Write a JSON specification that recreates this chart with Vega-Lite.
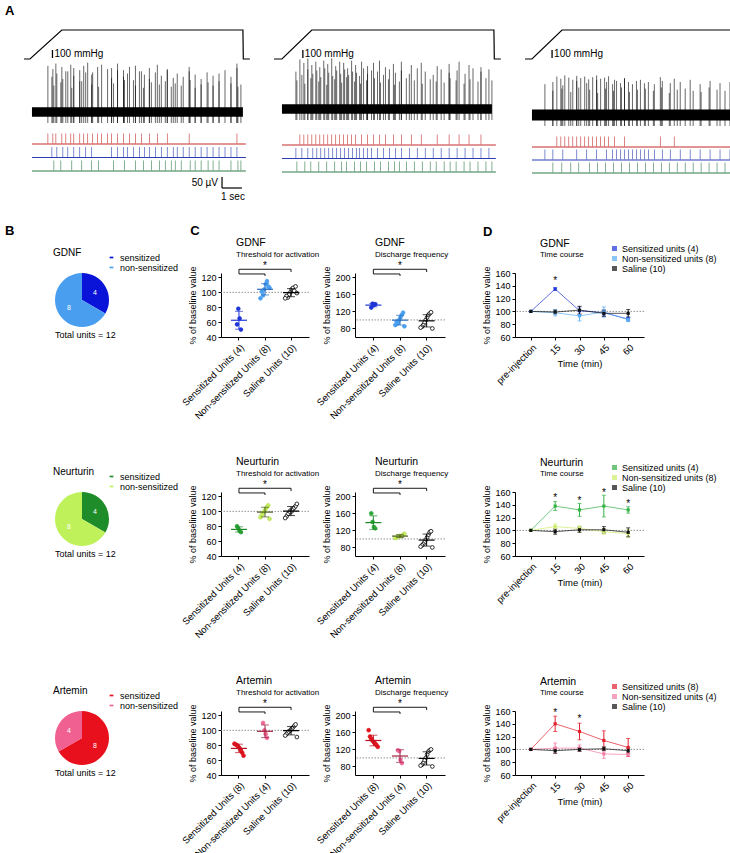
{
"$schema":"https://vega.github.io/schema/vega-lite/v6.json",
"background":"white",
"padding":{"left":5,"top":4,"right":0,"bottom":0},
"config":{
 "font":"Liberation Sans",
 "view":{"stroke":null},
 "axis":{"labelFontSize":9,"titleFontSize":9,"titleFontWeight":"normal","labelColor":"black","titleColor":"black","domainColor":"black","tickColor":"black","tickSize":3,"grid":false,"labelPadding":2,"titlePadding":3,"labelOverlap":false},
 "title":{"fontWeight":"normal","anchor":"start","color":"black","subtitleColor":"black"},
 "legend":{"labelColor":"black"}
},
"datasets":{
 "press":[
  {"p":1,"t":0,"y":0},{"p":1,"t":0.3,"y":0},{"p":1,"t":1.9,"y":100},{"p":1,"t":11.0,"y":100},{"p":1,"t":11.02,"y":0},{"p":1,"t":11.35,"y":0},
  {"p":2,"t":0,"y":0},{"p":2,"t":0.4,"y":0},{"p":2,"t":1.9,"y":100},{"p":2,"t":11.05,"y":100},{"p":2,"t":11.07,"y":0},{"p":2,"t":11.4,"y":0},
  {"p":3,"t":0,"y":0},{"p":3,"t":0.35,"y":0},{"p":3,"t":1.86,"y":100},{"p":3,"t":10.9,"y":100},{"p":3,"t":10.92,"y":0},{"p":3,"t":11.15,"y":0}
 ],
 "bars":[{"p":1,"t":1.43},{"p":2,"t":1.45},{"p":3,"t":1.36}],
 "band":[{"p":1,"t0":0.4,"t1":11.0},{"p":2,"t0":0.4,"t1":10.95},{"p":3,"t0":0.35,"t1":11.05}],
 "rl":[
  {"p":1,"u":"r","t0":0.4,"t1":11.15},{"p":1,"u":"b","t0":0.4,"t1":11.15},{"p":1,"u":"g","t0":0.4,"t1":11.15},
  {"p":2,"u":"r","t0":0.4,"t1":11.15},{"p":2,"u":"b","t0":0.4,"t1":11.15},{"p":2,"u":"g","t0":0.4,"t1":11.15},
  {"p":3,"u":"r","t0":0.35,"t1":11.05},{"p":3,"u":"b","t0":0.35,"t1":11.05},{"p":3,"u":"g","t0":0.35,"t1":11.05}
 ],
 "sbar":[{"t1":9.95,"t2":9.95,"v1":0,"v2":50,"lab":"50 µV"},{"t1":9.95,"t2":10.95,"v1":0,"v2":0,"lab":"1 sec"}],
 "spk":[
  {"p":1,"u":"r","t":1.2,"a":210},{"p":1,"u":"r","t":1.45,"a":195},{"p":1,"u":"r","t":1.6,"a":220},{"p":1,"u":"r","t":1.9,"a":205},{"p":1,"u":"r","t":2.1,"a":185},{"p":1,"u":"r","t":2.35,"a":215},{"p":1,"u":"r","t":2.5,"a":200},{"p":1,"u":"r","t":2.8,"a":190},{"p":1,"u":"r","t":3.0,"a":210},{"p":1,"u":"r","t":3.2,"a":225},{"p":1,"u":"r","t":3.45,"a":180},{"p":1,"u":"r","t":3.7,"a":205},{"p":1,"u":"r","t":3.9,"a":215},{"p":1,"u":"r","t":4.2,"a":195},{"p":1,"u":"r","t":4.4,"a":200},{"p":1,"u":"r","t":4.7,"a":220},{"p":1,"u":"r","t":5.0,"a":190},{"p":1,"u":"r","t":5.3,"a":205},{"p":1,"u":"r","t":5.6,"a":210},{"p":1,"u":"r","t":5.9,"a":185},{"p":1,"u":"r","t":6.3,"a":200},{"p":1,"u":"r","t":6.7,"a":215},{"p":1,"u":"r","t":7.2,"a":195},{"p":1,"u":"r","t":8.3,"a":205},{"p":1,"u":"r","t":10.7,"a":220},
  {"p":1,"u":"b","t":1.4,"a":160},{"p":1,"u":"b","t":1.65,"a":175},{"p":1,"u":"b","t":1.95,"a":150},{"p":1,"u":"b","t":2.2,"a":185},{"p":1,"u":"b","t":2.5,"a":165},{"p":1,"u":"b","t":2.8,"a":140},{"p":1,"u":"b","t":3.1,"a":180},{"p":1,"u":"b","t":3.4,"a":170},{"p":1,"u":"b","t":4.4,"a":155},{"p":1,"u":"b","t":4.7,"a":190},{"p":1,"u":"b","t":5.0,"a":160},{"p":1,"u":"b","t":5.2,"a":175},{"p":1,"u":"b","t":5.5,"a":145},{"p":1,"u":"b","t":5.8,"a":185},{"p":1,"u":"b","t":6.05,"a":170},{"p":1,"u":"b","t":6.3,"a":150},{"p":1,"u":"b","t":6.6,"a":180},{"p":1,"u":"b","t":6.9,"a":165},{"p":1,"u":"b","t":7.2,"a":190},{"p":1,"u":"b","t":7.5,"a":155},{"p":1,"u":"b","t":7.7,"a":175},{"p":1,"u":"b","t":8.0,"a":160},{"p":1,"u":"b","t":8.3,"a":185},{"p":1,"u":"b","t":8.6,"a":170},{"p":1,"u":"b","t":8.9,"a":150},{"p":1,"u":"b","t":9.2,"a":180},{"p":1,"u":"b","t":9.5,"a":165},{"p":1,"u":"b","t":9.8,"a":175},{"p":1,"u":"b","t":10.1,"a":190},{"p":1,"u":"b","t":10.4,"a":160},{"p":1,"u":"b","t":10.7,"a":200},
  {"p":1,"u":"g","t":1.5,"a":120},{"p":1,"u":"g","t":1.85,"a":135},{"p":1,"u":"g","t":2.4,"a":110},{"p":1,"u":"g","t":2.9,"a":140},{"p":1,"u":"g","t":3.4,"a":125},{"p":1,"u":"g","t":3.75,"a":115},{"p":1,"u":"g","t":4.5,"a":130},{"p":1,"u":"g","t":5.05,"a":145},{"p":1,"u":"g","t":5.6,"a":120},{"p":1,"u":"g","t":6.0,"a":110},{"p":1,"u":"g","t":6.4,"a":135},{"p":1,"u":"g","t":6.8,"a":125},{"p":1,"u":"g","t":7.1,"a":140},{"p":1,"u":"g","t":7.4,"a":115},{"p":1,"u":"g","t":7.6,"a":130},{"p":1,"u":"g","t":7.9,"a":120},{"p":1,"u":"g","t":8.35,"a":145},{"p":1,"u":"g","t":8.6,"a":110},{"p":1,"u":"g","t":8.9,"a":125},{"p":1,"u":"g","t":9.25,"a":135},{"p":1,"u":"g","t":9.5,"a":120},{"p":1,"u":"g","t":9.8,"a":140},{"p":1,"u":"g","t":10.4,"a":130},{"p":1,"u":"g","t":10.75,"a":115},{"p":1,"u":"g","t":10.9,"a":125},
  {"p":2,"u":"r","t":1.3,"a":225},{"p":2,"u":"r","t":1.5,"a":210},{"p":2,"u":"r","t":1.7,"a":230},{"p":2,"u":"r","t":1.9,"a":200},{"p":2,"u":"r","t":2.1,"a":215},{"p":2,"u":"r","t":2.3,"a":190},{"p":2,"u":"r","t":2.5,"a":220},{"p":2,"u":"r","t":2.7,"a":205},{"p":2,"u":"r","t":2.9,"a":230},{"p":2,"u":"r","t":3.1,"a":195},{"p":2,"u":"r","t":3.3,"a":215},{"p":2,"u":"r","t":3.5,"a":210},{"p":2,"u":"r","t":3.7,"a":185},{"p":2,"u":"r","t":3.9,"a":220},{"p":2,"u":"r","t":4.1,"a":200},{"p":2,"u":"r","t":4.4,"a":215},{"p":2,"u":"r","t":4.7,"a":195},{"p":2,"u":"r","t":5.0,"a":210},{"p":2,"u":"r","t":5.3,"a":220},{"p":2,"u":"r","t":5.6,"a":190},{"p":2,"u":"r","t":6.0,"a":205},{"p":2,"u":"r","t":6.4,"a":215},{"p":2,"u":"r","t":6.9,"a":200},{"p":2,"u":"r","t":7.4,"a":210},{"p":2,"u":"r","t":8.2,"a":195},{"p":2,"u":"r","t":8.8,"a":205},{"p":2,"u":"r","t":9.3,"a":215},{"p":2,"u":"r","t":9.8,"a":200},{"p":2,"u":"r","t":10.4,"a":190},
  {"p":2,"u":"b","t":1.1,"a":170},{"p":2,"u":"b","t":1.4,"a":155},{"p":2,"u":"b","t":1.7,"a":180},{"p":2,"u":"b","t":1.95,"a":160},{"p":2,"u":"b","t":2.15,"a":175},{"p":2,"u":"b","t":2.35,"a":145},{"p":2,"u":"b","t":2.55,"a":185},{"p":2,"u":"b","t":2.75,"a":165},{"p":2,"u":"b","t":2.95,"a":150},{"p":2,"u":"b","t":3.15,"a":175},{"p":2,"u":"b","t":3.35,"a":160},{"p":2,"u":"b","t":3.55,"a":180},{"p":2,"u":"b","t":3.75,"a":155},{"p":2,"u":"b","t":3.95,"a":170},{"p":2,"u":"b","t":4.15,"a":165},{"p":2,"u":"b","t":4.3,"a":150},{"p":2,"u":"b","t":4.5,"a":185},{"p":2,"u":"b","t":4.7,"a":160},{"p":2,"u":"b","t":4.9,"a":175},{"p":2,"u":"b","t":5.2,"a":170},{"p":2,"u":"b","t":5.5,"a":155},{"p":2,"u":"b","t":5.8,"a":180},{"p":2,"u":"b","t":6.1,"a":165},{"p":2,"u":"b","t":6.4,"a":175},{"p":2,"u":"b","t":6.8,"a":160},{"p":2,"u":"b","t":7.2,"a":185},{"p":2,"u":"b","t":7.6,"a":170},{"p":2,"u":"b","t":8.0,"a":155},{"p":2,"u":"b","t":8.4,"a":180},{"p":2,"u":"b","t":8.8,"a":165},{"p":2,"u":"b","t":9.2,"a":175},{"p":2,"u":"b","t":9.6,"a":160},{"p":2,"u":"b","t":10.0,"a":185},{"p":2,"u":"b","t":10.4,"a":170},{"p":2,"u":"b","t":10.8,"a":180},
  {"p":2,"u":"g","t":1.15,"a":130},{"p":2,"u":"g","t":1.55,"a":115},{"p":2,"u":"g","t":1.85,"a":140},{"p":2,"u":"g","t":2.25,"a":125},{"p":2,"u":"g","t":2.65,"a":110},{"p":2,"u":"g","t":3.05,"a":135},{"p":2,"u":"g","t":3.4,"a":120},{"p":2,"u":"g","t":3.65,"a":145},{"p":2,"u":"g","t":4.05,"a":125},{"p":2,"u":"g","t":4.35,"a":115},{"p":2,"u":"g","t":4.65,"a":130},{"p":2,"u":"g","t":5.05,"a":140},{"p":2,"u":"g","t":5.35,"a":120},{"p":2,"u":"g","t":5.75,"a":135},{"p":2,"u":"g","t":6.05,"a":110},{"p":2,"u":"g","t":6.3,"a":125},{"p":2,"u":"g","t":6.65,"a":140},{"p":2,"u":"g","t":7.05,"a":130},{"p":2,"u":"g","t":7.45,"a":115},{"p":2,"u":"g","t":7.85,"a":135},{"p":2,"u":"g","t":8.15,"a":125},{"p":2,"u":"g","t":8.55,"a":120},{"p":2,"u":"g","t":8.85,"a":140},{"p":2,"u":"g","t":9.15,"a":130},{"p":2,"u":"g","t":9.55,"a":115},{"p":2,"u":"g","t":9.85,"a":135},{"p":2,"u":"g","t":10.25,"a":125},{"p":2,"u":"g","t":10.65,"a":140},{"p":2,"u":"g","t":10.95,"a":130},
  {"p":3,"u":"r","t":1.6,"a":175},{"p":3,"u":"r","t":1.8,"a":165},{"p":3,"u":"r","t":2.0,"a":180},{"p":3,"u":"r","t":2.2,"a":170},{"p":3,"u":"r","t":2.4,"a":160},{"p":3,"u":"r","t":2.6,"a":178},{"p":3,"u":"r","t":2.8,"a":168},{"p":3,"u":"r","t":3.0,"a":175},{"p":3,"u":"r","t":3.2,"a":162},{"p":3,"u":"r","t":3.4,"a":172},{"p":3,"u":"r","t":3.6,"a":180},{"p":3,"u":"r","t":3.8,"a":165},{"p":3,"u":"r","t":4.0,"a":170},{"p":3,"u":"r","t":4.2,"a":176},{"p":3,"u":"r","t":4.5,"a":160},{"p":3,"u":"r","t":5.0,"a":168},{"p":3,"u":"r","t":6.8,"a":172},{"p":3,"u":"r","t":7.5,"a":165},
  {"p":3,"u":"b","t":1.0,"a":140},{"p":3,"u":"b","t":1.4,"a":150},{"p":3,"u":"b","t":1.9,"a":135},{"p":3,"u":"b","t":2.6,"a":155},{"p":3,"u":"b","t":3.1,"a":145},{"p":3,"u":"b","t":3.6,"a":160},{"p":3,"u":"b","t":4.1,"a":150},{"p":3,"u":"b","t":4.4,"a":140},{"p":3,"u":"b","t":4.6,"a":155},{"p":3,"u":"b","t":4.8,"a":145},{"p":3,"u":"b","t":5.0,"a":165},{"p":3,"u":"b","t":5.2,"a":150},{"p":3,"u":"b","t":5.4,"a":140},{"p":3,"u":"b","t":5.6,"a":155},{"p":3,"u":"b","t":5.8,"a":160},{"p":3,"u":"b","t":6.0,"a":145},{"p":3,"u":"b","t":6.2,"a":150},{"p":3,"u":"b","t":6.5,"a":140},{"p":3,"u":"b","t":6.9,"a":155},{"p":3,"u":"b","t":7.3,"a":145},{"p":3,"u":"b","t":7.8,"a":150},{"p":3,"u":"b","t":8.3,"a":160},{"p":3,"u":"b","t":8.8,"a":140},{"p":3,"u":"b","t":9.3,"a":155},{"p":3,"u":"b","t":9.8,"a":145},{"p":3,"u":"b","t":10.3,"a":150},{"p":3,"u":"b","t":10.7,"a":185},
  {"p":3,"u":"g","t":1.4,"a":110},{"p":3,"u":"g","t":1.85,"a":120},{"p":3,"u":"g","t":2.3,"a":105},{"p":3,"u":"g","t":2.7,"a":125},{"p":3,"u":"g","t":3.25,"a":115},{"p":3,"u":"g","t":3.65,"a":100},{"p":3,"u":"g","t":4.05,"a":120},{"p":3,"u":"g","t":4.45,"a":110},{"p":3,"u":"g","t":4.85,"a":125},{"p":3,"u":"g","t":5.25,"a":105},{"p":3,"u":"g","t":5.65,"a":115},{"p":3,"u":"g","t":6.05,"a":120},{"p":3,"u":"g","t":6.45,"a":110},{"p":3,"u":"g","t":6.85,"a":125},{"p":3,"u":"g","t":7.25,"a":100},{"p":3,"u":"g","t":7.65,"a":115},{"p":3,"u":"g","t":8.05,"a":120},{"p":3,"u":"g","t":8.45,"a":110},{"p":3,"u":"g","t":8.85,"a":105},{"p":3,"u":"g","t":9.25,"a":125},{"p":3,"u":"g","t":9.65,"a":115},{"p":3,"u":"g","t":10.05,"a":110},{"p":3,"u":"g","t":10.45,"a":120},{"p":3,"u":"g","t":10.75,"a":105}
 ],
 "pie":[
  {"d":"G","k":"sensitized","n":4},{"d":"G","k":"non-sensitized","n":8},
  {"d":"N","k":"sensitized","n":4},{"d":"N","k":"non-sensitized","n":8},
  {"d":"A","k":"sensitized","n":8},{"d":"A","k":"non-sensitized","n":4}
 ],
 "dots":[
  {"d":"G","m":"thr","k":"S","u":1,"v":78},{"d":"G","m":"thr","k":"S","u":2,"v":65},{"d":"G","m":"thr","k":"S","u":3,"v":57},{"d":"G","m":"thr","k":"S","u":4,"v":50},
  {"d":"G","m":"thr","k":"N","u":1,"v":104},{"d":"G","m":"thr","k":"N","u":2,"v":111},{"d":"G","m":"thr","k":"N","u":3,"v":96},{"d":"G","m":"thr","k":"N","u":4,"v":115},{"d":"G","m":"thr","k":"N","u":5,"v":101},{"d":"G","m":"thr","k":"N","u":6,"v":108},{"d":"G","m":"thr","k":"N","u":7,"v":92},{"d":"G","m":"thr","k":"N","u":8,"v":106},
  {"d":"G","m":"thr","k":"C","u":1,"v":100},{"d":"G","m":"thr","k":"C","u":2,"v":104},{"d":"G","m":"thr","k":"C","u":3,"v":97},{"d":"G","m":"thr","k":"C","u":4,"v":106},{"d":"G","m":"thr","k":"C","u":5,"v":93},{"d":"G","m":"thr","k":"C","u":6,"v":102},{"d":"G","m":"thr","k":"C","u":7,"v":95},{"d":"G","m":"thr","k":"C","u":8,"v":108},{"d":"G","m":"thr","k":"C","u":9,"v":92},{"d":"G","m":"thr","k":"C","u":10,"v":99},
  {"d":"G","m":"dis","k":"S","u":1,"v":138},{"d":"G","m":"dis","k":"S","u":2,"v":135},{"d":"G","m":"dis","k":"S","u":3,"v":129},{"d":"G","m":"dis","k":"S","u":4,"v":137},
  {"d":"G","m":"dis","k":"N","u":1,"v":100},{"d":"G","m":"dis","k":"N","u":2,"v":106},{"d":"G","m":"dis","k":"N","u":3,"v":92},{"d":"G","m":"dis","k":"N","u":4,"v":112},{"d":"G","m":"dis","k":"N","u":5,"v":96},{"d":"G","m":"dis","k":"N","u":6,"v":117},{"d":"G","m":"dis","k":"N","u":7,"v":88},{"d":"G","m":"dis","k":"N","u":8,"v":85},
  {"d":"G","m":"dis","k":"C","u":1,"v":100},{"d":"G","m":"dis","k":"C","u":2,"v":106},{"d":"G","m":"dis","k":"C","u":3,"v":94},{"d":"G","m":"dis","k":"C","u":4,"v":112},{"d":"G","m":"dis","k":"C","u":5,"v":88},{"d":"G","m":"dis","k":"C","u":6,"v":115},{"d":"G","m":"dis","k":"C","u":7,"v":84},{"d":"G","m":"dis","k":"C","u":8,"v":118},{"d":"G","m":"dis","k":"C","u":9,"v":82},{"d":"G","m":"dis","k":"C","u":10,"v":80},
  {"d":"N","m":"thr","k":"S","u":1,"v":77},{"d":"N","m":"thr","k":"S","u":2,"v":74},{"d":"N","m":"thr","k":"S","u":3,"v":80},{"d":"N","m":"thr","k":"S","u":4,"v":72},
  {"d":"N","m":"thr","k":"N","u":1,"v":100},{"d":"N","m":"thr","k":"N","u":2,"v":103},{"d":"N","m":"thr","k":"N","u":3,"v":98},{"d":"N","m":"thr","k":"N","u":4,"v":106},{"d":"N","m":"thr","k":"N","u":5,"v":95},{"d":"N","m":"thr","k":"N","u":6,"v":108},{"d":"N","m":"thr","k":"N","u":7,"v":92},{"d":"N","m":"thr","k":"N","u":8,"v":90},
  {"d":"N","m":"thr","k":"C","u":1,"v":101},{"d":"N","m":"thr","k":"C","u":2,"v":100},{"d":"N","m":"thr","k":"C","u":3,"v":98},{"d":"N","m":"thr","k":"C","u":4,"v":103},{"d":"N","m":"thr","k":"C","u":5,"v":96},{"d":"N","m":"thr","k":"C","u":6,"v":105},{"d":"N","m":"thr","k":"C","u":7,"v":93},{"d":"N","m":"thr","k":"C","u":8,"v":107},{"d":"N","m":"thr","k":"C","u":9,"v":91},{"d":"N","m":"thr","k":"C","u":10,"v":110},
  {"d":"N","m":"dis","k":"S","u":1,"v":140},{"d":"N","m":"dis","k":"S","u":2,"v":128},{"d":"N","m":"dis","k":"S","u":3,"v":160},{"d":"N","m":"dis","k":"S","u":4,"v":125},
  {"d":"N","m":"dis","k":"N","u":1,"v":107},{"d":"N","m":"dis","k":"N","u":2,"v":106},{"d":"N","m":"dis","k":"N","u":3,"v":105},{"d":"N","m":"dis","k":"N","u":4,"v":108},{"d":"N","m":"dis","k":"N","u":5,"v":103},{"d":"N","m":"dis","k":"N","u":6,"v":110},{"d":"N","m":"dis","k":"N","u":7,"v":102},{"d":"N","m":"dis","k":"N","u":8,"v":112},
  {"d":"N","m":"dis","k":"C","u":1,"v":98},{"d":"N","m":"dis","k":"C","u":2,"v":104},{"d":"N","m":"dis","k":"C","u":3,"v":92},{"d":"N","m":"dis","k":"C","u":4,"v":110},{"d":"N","m":"dis","k":"C","u":5,"v":88},{"d":"N","m":"dis","k":"C","u":6,"v":116},{"d":"N","m":"dis","k":"C","u":7,"v":85},{"d":"N","m":"dis","k":"C","u":8,"v":118},{"d":"N","m":"dis","k":"C","u":9,"v":82},{"d":"N","m":"dis","k":"C","u":10,"v":80},
  {"d":"A","m":"thr","k":"S","u":1,"v":78},{"d":"A","m":"thr","k":"S","u":2,"v":76},{"d":"A","m":"thr","k":"S","u":3,"v":80},{"d":"A","m":"thr","k":"S","u":4,"v":73},{"d":"A","m":"thr","k":"S","u":5,"v":81},{"d":"A","m":"thr","k":"S","u":6,"v":70},{"d":"A","m":"thr","k":"S","u":7,"v":82},{"d":"A","m":"thr","k":"S","u":8,"v":66},
  {"d":"A","m":"thr","k":"N","u":1,"v":100},{"d":"A","m":"thr","k":"N","u":2,"v":95},{"d":"A","m":"thr","k":"N","u":3,"v":110},{"d":"A","m":"thr","k":"N","u":4,"v":90},
  {"d":"A","m":"thr","k":"C","u":1,"v":100},{"d":"A","m":"thr","k":"C","u":2,"v":102},{"d":"A","m":"thr","k":"C","u":3,"v":99},{"d":"A","m":"thr","k":"C","u":4,"v":104},{"d":"A","m":"thr","k":"C","u":5,"v":97},{"d":"A","m":"thr","k":"C","u":6,"v":106},{"d":"A","m":"thr","k":"C","u":7,"v":95},{"d":"A","m":"thr","k":"C","u":8,"v":108},{"d":"A","m":"thr","k":"C","u":9,"v":93},{"d":"A","m":"thr","k":"C","u":10,"v":91},
  {"d":"A","m":"dis","k":"S","u":1,"v":140},{"d":"A","m":"dis","k":"S","u":2,"v":137},{"d":"A","m":"dis","k":"S","u":3,"v":145},{"d":"A","m":"dis","k":"S","u":4,"v":134},{"d":"A","m":"dis","k":"S","u":5,"v":150},{"d":"A","m":"dis","k":"S","u":6,"v":130},{"d":"A","m":"dis","k":"S","u":7,"v":165},{"d":"A","m":"dis","k":"S","u":8,"v":126},
  {"d":"A","m":"dis","k":"N","u":1,"v":116},{"d":"A","m":"dis","k":"N","u":2,"v":96},{"d":"A","m":"dis","k":"N","u":3,"v":118},{"d":"A","m":"dis","k":"N","u":4,"v":88},
  {"d":"A","m":"dis","k":"C","u":1,"v":100},{"d":"A","m":"dis","k":"C","u":2,"v":108},{"d":"A","m":"dis","k":"C","u":3,"v":94},{"d":"A","m":"dis","k":"C","u":4,"v":115},{"d":"A","m":"dis","k":"C","u":5,"v":88},{"d":"A","m":"dis","k":"C","u":6,"v":118},{"d":"A","m":"dis","k":"C","u":7,"v":84},{"d":"A","m":"dis","k":"C","u":8,"v":120},{"d":"A","m":"dis","k":"C","u":9,"v":82},{"d":"A","m":"dis","k":"C","u":10,"v":80}
 ],
 "brk":[
  {"m":"thr","b":1,"o":1,"k":"S","y":124.7},{"m":"thr","b":1,"o":2,"k":"N","y":124.7},{"m":"thr","b":1,"o":3,"k":"N","y":122},
  {"m":"thr","b":2,"o":1,"k":"S","y":124.7},{"m":"thr","b":2,"o":2,"k":"S","y":131},{"m":"thr","b":2,"o":3,"k":"C","y":131},{"m":"thr","b":2,"o":4,"k":"C","y":127.3},
  {"m":"dis","b":1,"o":1,"k":"S","y":207.7},{"m":"dis","b":1,"o":2,"k":"N","y":207.7},{"m":"dis","b":1,"o":3,"k":"N","y":203},
  {"m":"dis","b":2,"o":1,"k":"S","y":207.7},{"m":"dis","b":2,"o":2,"k":"S","y":218.7},{"m":"dis","b":2,"o":3,"k":"C","y":218.7},{"m":"dis","b":2,"o":4,"k":"C","y":212.3}
 ],
 "ast":[{"m":"thr","k":"N","y":135.5},{"m":"dis","k":"N","y":226.5}],
 "tc":[
  {"d":"G","k":"S","t":"pre-injection","m":100,"sd":0},{"d":"G","k":"S","t":"15","m":135,"sd":2},{"d":"G","k":"S","t":"30","m":101,"sd":6},{"d":"G","k":"S","t":"45","m":98,"sd":4},{"d":"G","k":"S","t":"60","m":88,"sd":3},
  {"d":"G","k":"N","t":"pre-injection","m":100,"sd":0},{"d":"G","k":"N","t":"15","m":98,"sd":5},{"d":"G","k":"N","t":"30","m":93,"sd":8},{"d":"G","k":"N","t":"45","m":99,"sd":8},{"d":"G","k":"N","t":"60","m":87,"sd":3},
  {"d":"G","k":"C","t":"pre-injection","m":100,"sd":0},{"d":"G","k":"C","t":"15","m":99,"sd":3},{"d":"G","k":"C","t":"30","m":102,"sd":6},{"d":"G","k":"C","t":"45","m":97,"sd":5},{"d":"G","k":"C","t":"60","m":97,"sd":6},
  {"d":"N","k":"S","t":"pre-injection","m":100,"sd":0},{"d":"N","k":"S","t":"15","m":138,"sd":7},{"d":"N","k":"S","t":"30","m":132,"sd":10},{"d":"N","k":"S","t":"45","m":138,"sd":17},{"d":"N","k":"S","t":"60","m":132,"sd":5},
  {"d":"N","k":"N","t":"pre-injection","m":100,"sd":0},{"d":"N","k":"N","t":"15","m":106,"sd":4},{"d":"N","k":"N","t":"30","m":103,"sd":4},{"d":"N","k":"N","t":"45","m":98,"sd":4},{"d":"N","k":"N","t":"60","m":95,"sd":6},
  {"d":"N","k":"C","t":"pre-injection","m":100,"sd":0},{"d":"N","k":"C","t":"15","m":98,"sd":4},{"d":"N","k":"C","t":"30","m":101,"sd":4},{"d":"N","k":"C","t":"45","m":101,"sd":5},{"d":"N","k":"C","t":"60","m":97,"sd":7},
  {"d":"A","k":"S","t":"pre-injection","m":100,"sd":0},{"d":"A","k":"S","t":"15","m":140,"sd":12},{"d":"A","k":"S","t":"30","m":128,"sd":13},{"d":"A","k":"S","t":"45","m":114,"sd":15},{"d":"A","k":"S","t":"60","m":103,"sd":14},
  {"d":"A","k":"N","t":"pre-injection","m":100,"sd":0},{"d":"A","k":"N","t":"15","m":102,"sd":8},{"d":"A","k":"N","t":"30","m":102,"sd":5},{"d":"A","k":"N","t":"45","m":93,"sd":7},{"d":"A","k":"N","t":"60","m":92,"sd":3},
  {"d":"A","k":"C","t":"pre-injection","m":100,"sd":0},{"d":"A","k":"C","t":"15","m":98,"sd":4},{"d":"A","k":"C","t":"30","m":100,"sd":3},{"d":"A","k":"C","t":"45","m":101,"sd":3},{"d":"A","k":"C","t":"60","m":98,"sd":4}
 ],
 "tcs":[{"d":"G","t":"15","y":147},{"d":"N","t":"15","y":151},{"d":"N","t":"30","y":146},{"d":"N","t":"45","y":158},{"d":"N","t":"60","y":142},{"d":"A","t":"15","y":157},{"d":"A","t":"30","y":148}]
},
"resolve":{"scale":{"color":"independent","fill":"independent","stroke":"independent"},"legend":{"color":"independent"}},
"spacing":23,
"vconcat":[
 {"title":{"text":"A","fontSize":13,"fontWeight":"bold","offset":10},
  "spacing":2,
  "hconcat":[
   {"width":240,"height":145,"resolve":{"scale":{"y":"independent"}},
    "layer":[
     {"data":{"name":"press"},"transform":[{"filter":"datum.p==1"}],"mark":{"type":"line","color":"black","strokeWidth":1.2},
      "encoding":{"x":{"field":"t","type":"quantitative","scale":{"domain":[-0.955,11.105],"nice":false,"zero":false},"axis":null},"y":{"field":"y","type":"quantitative","scale":{"domain":[0,100],"range":[29,0]},"axis":null}}},
     {"data":{"name":"bars"},"transform":[{"filter":"datum.p==1"}],"mark":{"type":"rule","color":"black","strokeWidth":1.3},
      "encoding":{"x":{"field":"t","type":"quantitative","scale":{"domain":[-0.955,11.105],"nice":false,"zero":false},"axis":null},"y":{"datum":0,"type":"quantitative","scale":{"domain":[0,100],"range":[28,20]},"axis":null},"y2":{"datum":100}}},
     {"data":{"name":"bars"},"transform":[{"filter":"datum.p==1"}],"mark":{"type":"text","text":"100 mmHg","align":"left","dx":2,"fontSize":10,"baseline":"middle"},
      "encoding":{"x":{"field":"t","type":"quantitative","scale":{"domain":[-0.955,11.105],"nice":false,"zero":false},"axis":null},"y":{"datum":50,"type":"quantitative","scale":{"domain":[0,100],"range":[28,20]},"axis":null}}},
     {"data":{"name":"band"},"transform":[{"filter":"datum.p==1"}],"mark":{"type":"rect","color":"black"},
      "encoding":{"x":{"field":"t0","type":"quantitative","scale":{"domain":[-0.955,11.105],"nice":false,"zero":false},"axis":null},"x2":{"field":"t1"},"y":{"datum":-22,"type":"quantitative","scale":{"domain":[-100,200],"range":[104,38]},"axis":null},"y2":{"datum":22}}},
     {"data":{"name":"spk"},"transform":[{"filter":"datum.p==1"}],"mark":{"type":"rule","color":"black","strokeWidth":0.6},
      "encoding":{"x":{"field":"t","type":"quantitative","scale":{"domain":[-0.955,11.105],"nice":false,"zero":false},"axis":null},"y":{"field":"a","type":"quantitative","scale":{"domain":[-100,200],"range":[104,38]},"axis":null},"y2":{"datum":-50}}},
     {"data":{"name":"rl"},"transform":[{"filter":"datum.p==1"}],"mark":{"type":"rule","strokeWidth":1.1},
      "encoding":{"x":{"field":"t0","type":"quantitative","scale":{"domain":[-0.955,11.105],"nice":false,"zero":false},"axis":null},"x2":{"field":"t1"},"y":{"field":"u","type":"nominal","scale":{"type":"point","domain":["r","b","g"],"range":[114,141],"padding":0},"axis":null},"color":{"field":"u","type":"nominal","scale":{"domain":["r","b","g"],"range":["#c62d2d","#2b3db0","#2e7d48"]},"legend":null}}},
     {"data":{"name":"spk"},"transform":[{"filter":"datum.p==1"}],"mark":{"type":"tick","size":10,"thickness":0.7,"opacity":0.85,"yOffset":-5.5},
      "encoding":{"x":{"field":"t","type":"quantitative","scale":{"domain":[-0.955,11.105],"nice":false,"zero":false},"axis":null},"y":{"field":"u","type":"nominal","scale":{"type":"point","domain":["r","b","g"],"range":[114,141],"padding":0},"axis":null},"color":{"field":"u","type":"nominal","scale":{"domain":["r","b","g"],"range":["#c62d2d","#2b3db0","#2e7d48"]},"legend":null}}},
     {"data":{"name":"sbar"},"mark":{"type":"rule","color":"black","strokeWidth":1.2},
      "encoding":{"x":{"field":"t1","type":"quantitative","scale":{"domain":[-0.955,11.105],"nice":false,"zero":false},"axis":null},"x2":{"field":"t2"},"y":{"field":"v1","type":"quantitative","scale":{"domain":[0,50],"range":[158,147]},"axis":null},"y2":{"field":"v2"}}},
     {"data":{"name":"sbar"},"transform":[{"filter":"datum.v2==50"}],"mark":{"type":"text","align":"right","dx":-4,"fontSize":10,"baseline":"middle"},
      "encoding":{"x":{"field":"t1","type":"quantitative","scale":{"domain":[-0.955,11.105],"nice":false,"zero":false},"axis":null},"y":{"datum":25,"type":"quantitative","scale":{"domain":[0,50],"range":[158,147]},"axis":null},"text":{"field":"lab"}}},
     {"data":{"name":"sbar"},"transform":[{"filter":"datum.v2==0"}],"mark":{"type":"text","align":"center","dy":9,"fontSize":10,"baseline":"middle"},
      "encoding":{"x":{"datum":10.5,"type":"quantitative","scale":{"domain":[-0.955,11.105],"nice":false,"zero":false},"axis":null},"y":{"field":"v1","type":"quantitative","scale":{"domain":[0,50],"range":[158,147]},"axis":null},"text":{"field":"lab"}}}
    ]},
   {"width":240,"height":145,"resolve":{"scale":{"y":"independent"}},
    "layer":[
     {"data":{"name":"press"},"transform":[{"filter":"datum.p==2"}],"mark":{"type":"line","color":"black","strokeWidth":1.2},
      "encoding":{"x":{"field":"t","type":"quantitative","scale":{"domain":[-0.955,11.105],"nice":false,"zero":false},"axis":null},"y":{"field":"y","type":"quantitative","scale":{"domain":[0,100],"range":[29,0]},"axis":null}}},
     {"data":{"name":"bars"},"transform":[{"filter":"datum.p==2"}],"mark":{"type":"rule","color":"black","strokeWidth":1.3},
      "encoding":{"x":{"field":"t","type":"quantitative","scale":{"domain":[-0.955,11.105],"nice":false,"zero":false},"axis":null},"y":{"datum":0,"type":"quantitative","scale":{"domain":[0,100],"range":[28,20]},"axis":null},"y2":{"datum":100}}},
     {"data":{"name":"bars"},"transform":[{"filter":"datum.p==2"}],"mark":{"type":"text","text":"100 mmHg","align":"left","dx":2,"fontSize":10,"baseline":"middle"},
      "encoding":{"x":{"field":"t","type":"quantitative","scale":{"domain":[-0.955,11.105],"nice":false,"zero":false},"axis":null},"y":{"datum":50,"type":"quantitative","scale":{"domain":[0,100],"range":[28,20]},"axis":null}}},
     {"data":{"name":"band"},"transform":[{"filter":"datum.p==2"}],"mark":{"type":"rect","color":"black"},
      "encoding":{"x":{"field":"t0","type":"quantitative","scale":{"domain":[-0.955,11.105],"nice":false,"zero":false},"axis":null},"x2":{"field":"t1"},"y":{"datum":-22,"type":"quantitative","scale":{"domain":[-100,200],"range":[101,35]},"axis":null},"y2":{"datum":22}}},
     {"data":{"name":"spk"},"transform":[{"filter":"datum.p==2"}],"mark":{"type":"rule","color":"black","strokeWidth":0.6},
      "encoding":{"x":{"field":"t","type":"quantitative","scale":{"domain":[-0.955,11.105],"nice":false,"zero":false},"axis":null},"y":{"field":"a","type":"quantitative","scale":{"domain":[-100,200],"range":[101,35]},"axis":null},"y2":{"datum":-50}}},
     {"data":{"name":"rl"},"transform":[{"filter":"datum.p==2"}],"mark":{"type":"rule","strokeWidth":1.1},
      "encoding":{"x":{"field":"t0","type":"quantitative","scale":{"domain":[-0.955,11.105],"nice":false,"zero":false},"axis":null},"x2":{"field":"t1"},"y":{"field":"u","type":"nominal","scale":{"type":"point","domain":["r","b","g"],"range":[115,142],"padding":0},"axis":null},"color":{"field":"u","type":"nominal","scale":{"domain":["r","b","g"],"range":["#c62d2d","#2b3db0","#2e7d48"]},"legend":null}}},
     {"data":{"name":"spk"},"transform":[{"filter":"datum.p==2"}],"mark":{"type":"tick","size":10,"thickness":0.7,"opacity":0.85,"yOffset":-5.5},
      "encoding":{"x":{"field":"t","type":"quantitative","scale":{"domain":[-0.955,11.105],"nice":false,"zero":false},"axis":null},"y":{"field":"u","type":"nominal","scale":{"type":"point","domain":["r","b","g"],"range":[115,142],"padding":0},"axis":null},"color":{"field":"u","type":"nominal","scale":{"domain":["r","b","g"],"range":["#c62d2d","#2b3db0","#2e7d48"]},"legend":null}}}
    ]},
   {"width":240,"height":145,"resolve":{"scale":{"y":"independent"}},
    "layer":[
     {"data":{"name":"press"},"transform":[{"filter":"datum.p==3"}],"mark":{"type":"line","color":"black","strokeWidth":1.2},
      "encoding":{"x":{"field":"t","type":"quantitative","scale":{"domain":[-0.955,11.105],"nice":false,"zero":false},"axis":null},"y":{"field":"y","type":"quantitative","scale":{"domain":[0,100],"range":[29,0]},"axis":null}}},
     {"data":{"name":"bars"},"transform":[{"filter":"datum.p==3"}],"mark":{"type":"rule","color":"black","strokeWidth":1.3},
      "encoding":{"x":{"field":"t","type":"quantitative","scale":{"domain":[-0.955,11.105],"nice":false,"zero":false},"axis":null},"y":{"datum":0,"type":"quantitative","scale":{"domain":[0,100],"range":[28,20]},"axis":null},"y2":{"datum":100}}},
     {"data":{"name":"bars"},"transform":[{"filter":"datum.p==3"}],"mark":{"type":"text","text":"100 mmHg","align":"left","dx":2,"fontSize":10,"baseline":"middle"},
      "encoding":{"x":{"field":"t","type":"quantitative","scale":{"domain":[-0.955,11.105],"nice":false,"zero":false},"axis":null},"y":{"datum":50,"type":"quantitative","scale":{"domain":[0,100],"range":[28,20]},"axis":null}}},
     {"data":{"name":"band"},"transform":[{"filter":"datum.p==3"}],"mark":{"type":"rect","color":"black"},
      "encoding":{"x":{"field":"t0","type":"quantitative","scale":{"domain":[-0.955,11.105],"nice":false,"zero":false},"axis":null},"x2":{"field":"t1"},"y":{"datum":-25,"type":"quantitative","scale":{"domain":[-100,200],"range":[107,41]},"axis":null},"y2":{"datum":25}}},
     {"data":{"name":"spk"},"transform":[{"filter":"datum.p==3"}],"mark":{"type":"rule","color":"black","strokeWidth":0.6},
      "encoding":{"x":{"field":"t","type":"quantitative","scale":{"domain":[-0.955,11.105],"nice":false,"zero":false},"axis":null},"y":{"field":"a","type":"quantitative","scale":{"domain":[-100,200],"range":[107,41]},"axis":null},"y2":{"datum":-50}}},
     {"data":{"name":"rl"},"transform":[{"filter":"datum.p==3"}],"mark":{"type":"rule","strokeWidth":1.1},
      "encoding":{"x":{"field":"t0","type":"quantitative","scale":{"domain":[-0.955,11.105],"nice":false,"zero":false},"axis":null},"x2":{"field":"t1"},"y":{"field":"u","type":"nominal","scale":{"type":"point","domain":["r","b","g"],"range":[117,143],"padding":0},"axis":null},"color":{"field":"u","type":"nominal","scale":{"domain":["r","b","g"],"range":["#c62d2d","#2b3db0","#2e7d48"]},"legend":null}}},
     {"data":{"name":"spk"},"transform":[{"filter":"datum.p==3"}],"mark":{"type":"tick","size":10,"thickness":0.7,"opacity":0.85,"yOffset":-5.5},
      "encoding":{"x":{"field":"t","type":"quantitative","scale":{"domain":[-0.955,11.105],"nice":false,"zero":false},"axis":null},"y":{"field":"u","type":"nominal","scale":{"type":"point","domain":["r","b","g"],"range":[117,143],"padding":0},"axis":null},"color":{"field":"u","type":"nominal","scale":{"domain":["r","b","g"],"range":["#c62d2d","#2b3db0","#2e7d48"]},"legend":null}}}
    ]}
  ]},
 {"spacing":36,"resolve":{"scale":{"color":"independent","fill":"independent","stroke":"independent"},"legend":{"color":"independent"}},
  "vconcat":[
   {"spacing":33,"resolve":{"scale":{"color":"independent","fill":"independent","stroke":"independent"},"legend":{"color":"independent"}},"hconcat":[
     {"spacing":1,"resolve":{"scale":{"color":"independent","fill":"independent","stroke":"independent"},"legend":{"color":"independent"}},"hconcat":[
       {"title":{"text":"B","fontSize":13,"fontWeight":"bold","offset":10},"resolve":{"scale":{"color":"independent"},"legend":{"color":"independent"}},
        "vconcat":[{"title":{"text":"Total units = 12","orient":"bottom","fontSize":9,"dx":50,"offset":4},"resolve":{"scale":{"color":"independent"},"legend":{"color":"independent"}},
          "vconcat":[{"width":154,"height":54,"data":{"name":"pie"},"transform":[{"filter":"datum.d=='G'"}],
            "title":{"text":"GDNF","fontSize":10,"frame":"group","dx":48,"offset":-5},
            "encoding":{"theta":{"field":"n","type":"quantitative","stack":true},"order":{"field":"k","sort":"descending"},
              "color":{"field":"k","type":"nominal","scale":{"domain":["sensitized","non-sensitized"],"range":["#0a14d8","#4a9ef0"]},"legend":{"orient":"none","legendX":102,"legendY":-20,"title":null,"symbolType":"M-1,-0.45L1,-0.45L1,0.45L-1,0.45Z","symbolSize":14,"labelFontSize":9,"rowPadding":-2,"symbolStrokeWidth":0}}},
            "layer":[{"mark":{"type":"arc","outerRadius":27}},{"mark":{"type":"text","radius":15,"fontSize":7},"encoding":{"text":{"field":"n","type":"quantitative"},"color":{"value":"white"}}}]}]}]},
       {"title":{"text":"C","fontSize":13,"fontWeight":"bold","dx":10,"offset":0},"spacing":-6,"resolve":{"scale":{"color":"independent","fill":"independent","stroke":"independent"},"legend":{"color":"independent"}},
        "hconcat":[
         {"width":88,"height":64,"title":{"text":"GDNF","subtitle":"Threshold for activation","fontSize":10.5,"subtitleFontSize":8,"frame":"group","dx":15,"offset":2,"subtitlePadding":2},
          "layer":[
           {"data":{"name":"ast"},"transform":[{"filter":"datum.m=='thr'"}],"mark":{"type":"rule","strokeDash":[1.5,1.5],"color":"#777","strokeWidth":0.8},"encoding":{"y":{"datum":100,"type":"quantitative","scale":{"domain":[40,126],"nice":false,"zero":false},"axis":{"values":[40,60,80,100,120],"tickCount":10,"labelOverlap":false},"title":"% of baseline value"}}},
           {"data":{"name":"dots"},"transform":[{"filter":"datum.d=='G' && datum.m=='thr'"}],"mark":{"type":"point","shape":"circle","size":14,"strokeWidth":0.8,"opacity":1},
            "encoding":{"x":{"field":"k","type":"nominal","scale":{"type":"band","domain":["S","N","C"],"paddingInner":0.5,"paddingOuter":0.44},"axis":{"labelAngle":-45,"labelFontSize":9.5,"labelExpr":"datum.value=='S'?'Sensitized Units (4)':datum.value=='N'?'Non-sensitized Units (8)':'Saline Units (10)'"},"title":null},
             "xOffset":{"field":"u","type":"nominal","scale":{"domain":[9,7,5,3,1,2,4,6,8,10]}},
             "y":{"field":"v","type":"quantitative","title":"% of baseline value"},
             "fill":{"field":"k","type":"nominal","scale":{"domain":["S","N","C"],"range":["#1f35d6","#4aa0f0","white"]},"legend":null},
             "stroke":{"field":"k","type":"nominal","scale":{"domain":["S","N","C"],"range":["#1f35d6","#4aa0f0","black"]},"legend":null}}},
           {"data":{"name":"dots"},"transform":[{"filter":"datum.d=='G' && datum.m=='thr'"}],"mark":{"type":"errorbar","extent":"stdev","ticks":{"size":8}},
            "encoding":{"x":{"field":"k","type":"nominal","scale":{"type":"band","domain":["S","N","C"],"paddingInner":0.5,"paddingOuter":0.44},"title":null},"y":{"field":"v","type":"quantitative","title":"% of baseline value"},"color":{"field":"k","type":"nominal","scale":{"domain":["S","N","C"],"range":["#1f35d6","#2a6fc0","black"]},"legend":null}}},
           {"data":{"name":"dots"},"transform":[{"filter":"datum.d=='G' && datum.m=='thr'"}],"mark":{"type":"tick","size":16,"thickness":1.2},
            "encoding":{"x":{"field":"k","type":"nominal","scale":{"type":"band","domain":["S","N","C"],"paddingInner":0.5,"paddingOuter":0.44},"title":null},"y":{"aggregate":"mean","field":"v","type":"quantitative","title":"% of baseline value"},"color":{"field":"k","type":"nominal","scale":{"domain":["S","N","C"],"range":["#1f35d6","#2a6fc0","black"]},"legend":null}}},
           {"data":{"name":"brk"},"transform":[{"filter":"datum.m=='thr'"}],"mark":{"type":"line","color":"black","strokeWidth":0.9},
            "encoding":{"x":{"field":"k","type":"nominal","scale":{"type":"band","domain":["S","N","C"],"paddingInner":0.5,"paddingOuter":0.44},"title":null},"y":{"field":"y","type":"quantitative","title":"% of baseline value"},"detail":{"field":"b"},"order":{"field":"o"}}},
           {"data":{"name":"ast"},"transform":[{"filter":"datum.m=='thr'"}],"mark":{"type":"text","text":"*","fontSize":10,"baseline":"middle","color":"black"},
            "encoding":{"x":{"field":"k","type":"nominal","scale":{"type":"band","domain":["S","N","C"],"paddingInner":0.5,"paddingOuter":0.44},"title":null},"y":{"field":"y","type":"quantitative","title":"% of baseline value"}}}
          ]},
         {"width":90,"height":64,"title":{"text":"GDNF","subtitle":"Discharge frequency","fontSize":10.5,"subtitleFontSize":8,"frame":"group","dx":20,"offset":2,"subtitlePadding":2},
          "layer":[
           {"data":{"name":"ast"},"transform":[{"filter":"datum.m=='dis'"}],"mark":{"type":"rule","strokeDash":[1.5,1.5],"color":"#777","strokeWidth":0.8},"encoding":{"y":{"datum":100,"type":"quantitative","scale":{"domain":[60,210],"nice":false,"zero":false},"axis":{"values":[80,120,160,200],"tickCount":10,"labelOverlap":false},"title":"% of baseline value"}}},
           {"data":{"name":"dots"},"transform":[{"filter":"datum.d=='G' && datum.m=='dis'"}],"mark":{"type":"point","shape":"circle","size":14,"strokeWidth":0.8,"opacity":1},
            "encoding":{"x":{"field":"k","type":"nominal","scale":{"type":"band","domain":["S","N","C"],"paddingInner":0.5,"paddingOuter":0.44},"axis":{"labelAngle":-45,"labelFontSize":9.5,"labelExpr":"datum.value=='S'?'Sensitized Units (4)':datum.value=='N'?'Non-sensitized Units (8)':'Saline Units (10)'"},"title":null},
             "xOffset":{"field":"u","type":"nominal","scale":{"domain":[9,7,5,3,1,2,4,6,8,10]}},
             "y":{"field":"v","type":"quantitative","title":"% of baseline value"},
             "fill":{"field":"k","type":"nominal","scale":{"domain":["S","N","C"],"range":["#1f35d6","#4aa0f0","white"]},"legend":null},
             "stroke":{"field":"k","type":"nominal","scale":{"domain":["S","N","C"],"range":["#1f35d6","#4aa0f0","black"]},"legend":null}}},
           {"data":{"name":"dots"},"transform":[{"filter":"datum.d=='G' && datum.m=='dis'"}],"mark":{"type":"errorbar","extent":"stdev","ticks":{"size":8}},
            "encoding":{"x":{"field":"k","type":"nominal","scale":{"type":"band","domain":["S","N","C"],"paddingInner":0.5,"paddingOuter":0.44},"title":null},"y":{"field":"v","type":"quantitative","title":"% of baseline value"},"color":{"field":"k","type":"nominal","scale":{"domain":["S","N","C"],"range":["#1f35d6","#2a6fc0","black"]},"legend":null}}},
           {"data":{"name":"dots"},"transform":[{"filter":"datum.d=='G' && datum.m=='dis'"}],"mark":{"type":"tick","size":16,"thickness":1.2},
            "encoding":{"x":{"field":"k","type":"nominal","scale":{"type":"band","domain":["S","N","C"],"paddingInner":0.5,"paddingOuter":0.44},"title":null},"y":{"aggregate":"mean","field":"v","type":"quantitative","title":"% of baseline value"},"color":{"field":"k","type":"nominal","scale":{"domain":["S","N","C"],"range":["#1f35d6","#2a6fc0","black"]},"legend":null}}},
           {"data":{"name":"brk"},"transform":[{"filter":"datum.m=='dis'"}],"mark":{"type":"line","color":"black","strokeWidth":0.9},
            "encoding":{"x":{"field":"k","type":"nominal","scale":{"type":"band","domain":["S","N","C"],"paddingInner":0.5,"paddingOuter":0.44},"title":null},"y":{"field":"y","type":"quantitative","title":"% of baseline value"},"detail":{"field":"b"},"order":{"field":"o"}}},
           {"data":{"name":"ast"},"transform":[{"filter":"datum.m=='dis'"}],"mark":{"type":"text","text":"*","fontSize":10,"baseline":"middle","color":"black"},
            "encoding":{"x":{"field":"k","type":"nominal","scale":{"type":"band","domain":["S","N","C"],"paddingInner":0.5,"paddingOuter":0.44},"title":null},"y":{"field":"y","type":"quantitative","title":"% of baseline value"}}}
          ]}
        ]}
     ]},
     {"title":{"text":"D","fontSize":13,"fontWeight":"bold","offset":0},"resolve":{"scale":{"color":"independent"},"legend":{"color":"independent"}},
      "vconcat":[
       {"width":129,"height":64,"title":{"text":"GDNF","subtitle":"Time course","fontSize":10.5,"subtitleFontSize":8,"frame":"group","dx":25,"offset":-15,"subtitlePadding":2},
        "layer":[
         {"data":{"name":"pie"},"transform":[{"filter":"datum.d=='G' && datum.k=='sensitized'"}],"mark":{"type":"rule","strokeDash":[1.5,1.5],"color":"#777","strokeWidth":0.8},"encoding":{"y":{"datum":100,"type":"quantitative","scale":{"domain":[60,160],"nice":false,"zero":false},"axis":{"values":[60,80,100,120,140,160],"tickCount":10,"labelOverlap":false},"title":"% of baseline value"}}},
         {"data":{"name":"tc"},"transform":[{"filter":"datum.d=='G'"}],"mark":{"type":"line","strokeWidth":1,"opacity":0.7},
          "encoding":{"x":{"field":"t","type":"nominal","scale":{"type":"point","domain":["pre-injection","15","30","45","60"],"padding":0.65},"axis":{"labelAngle":-45,"labelFontSize":9.5,"titleFontSize":9.5,"titleY":21},"title":"Time (min)"},
           "y":{"field":"m","type":"quantitative","title":"% of baseline value"},
           "color":{"field":"k","type":"nominal","scale":{"domain":["S","N","C"],"range":["#1f35d6","#5aaef2","#111111"]},"legend":{"orient":"none","legendX":95,"legendY":-29,"title":null,"labelExpr":"datum.value=='S'?'Sensitized units (4)':datum.value=='N'?'Non-sensitized units (8)':'Saline (10)'","symbolType":"square","symbolSize":12,"labelFontSize":9,"rowPadding":-3,"labelOffset":3}}}},
         {"data":{"name":"tc"},"transform":[{"filter":"datum.d=='G'"}],"mark":{"type":"errorbar","ticks":{"size":4}},
          "encoding":{"x":{"field":"t","type":"nominal","scale":{"type":"point","domain":["pre-injection","15","30","45","60"],"padding":0.65},"title":"Time (min)"},"y":{"field":"m","type":"quantitative","title":"% of baseline value"},"yError":{"field":"sd"},"color":{"field":"k","type":"nominal","scale":{"domain":["S","N","C"],"range":["#1f35d6","#5aaef2","#111111"]}}}},
         {"data":{"name":"tc"},"transform":[{"filter":"datum.d=='G'"}],"mark":{"type":"point","shape":"square","filled":true,"size":10,"opacity":1},
          "encoding":{"x":{"field":"t","type":"nominal","scale":{"type":"point","domain":["pre-injection","15","30","45","60"],"padding":0.65},"title":"Time (min)"},"y":{"field":"m","type":"quantitative","title":"% of baseline value"},"color":{"field":"k","type":"nominal","scale":{"domain":["S","N","C"],"range":["#1f35d6","#5aaef2","#111111"]}}}},
         {"data":{"name":"tcs"},"transform":[{"filter":"datum.d=='G'"}],"mark":{"type":"text","text":"*","fontSize":10,"baseline":"middle","color":"black"},
          "encoding":{"x":{"field":"t","type":"nominal","scale":{"type":"point","domain":["pre-injection","15","30","45","60"],"padding":0.65},"title":"Time (min)"},"y":{"field":"y","type":"quantitative","title":"% of baseline value"}}}
        ]}
      ]}
   ]},
   {"spacing":33,"resolve":{"scale":{"color":"independent","fill":"independent","stroke":"independent"},"legend":{"color":"independent"}},"hconcat":[
     {"spacing":1,"resolve":{"scale":{"color":"independent","fill":"independent","stroke":"independent"},"legend":{"color":"independent"}},"hconcat":[
       {"title":{"text":"Total units = 12","orient":"bottom","fontSize":9,"dx":50,"offset":4},"resolve":{"scale":{"color":"independent"},"legend":{"color":"independent"}},
        "vconcat":[{"width":154,"height":54,"data":{"name":"pie"},"transform":[{"filter":"datum.d=='N'"}],
            "title":{"text":"Neurturin","fontSize":10,"frame":"group","dx":48,"offset":-5},
            "encoding":{"theta":{"field":"n","type":"quantitative","stack":true},"order":{"field":"k","sort":"descending"},
              "color":{"field":"k","type":"nominal","scale":{"domain":["sensitized","non-sensitized"],"range":["#1e8c28","#bff25a"]},"legend":{"orient":"none","legendX":102,"legendY":-20,"title":null,"symbolType":"M-1,-0.45L1,-0.45L1,0.45L-1,0.45Z","symbolSize":14,"labelFontSize":9,"rowPadding":-2,"symbolStrokeWidth":0}}},
            "layer":[{"mark":{"type":"arc","outerRadius":27}},{"mark":{"type":"text","radius":15,"fontSize":7},"encoding":{"text":{"field":"n","type":"quantitative"},"color":{"value":"white"}}}]}]},
       {"spacing":-6,"resolve":{"scale":{"color":"independent","fill":"independent","stroke":"independent"},"legend":{"color":"independent"}},
        "hconcat":[
         {"width":88,"height":64,"title":{"text":"Neurturin","subtitle":"Threshold for activation","fontSize":10.5,"subtitleFontSize":8,"frame":"group","dx":15,"offset":2,"subtitlePadding":2},
          "layer":[
           {"data":{"name":"ast"},"transform":[{"filter":"datum.m=='thr'"}],"mark":{"type":"rule","strokeDash":[1.5,1.5],"color":"#777","strokeWidth":0.8},"encoding":{"y":{"datum":100,"type":"quantitative","scale":{"domain":[40,126],"nice":false,"zero":false},"axis":{"values":[40,60,80,100,120],"tickCount":10,"labelOverlap":false},"title":"% of baseline value"}}},
           {"data":{"name":"dots"},"transform":[{"filter":"datum.d=='N' && datum.m=='thr'"}],"mark":{"type":"point","shape":"circle","size":14,"strokeWidth":0.8,"opacity":1},
            "encoding":{"x":{"field":"k","type":"nominal","scale":{"type":"band","domain":["S","N","C"],"paddingInner":0.5,"paddingOuter":0.44},"axis":{"labelAngle":-45,"labelFontSize":9.5,"labelExpr":"datum.value=='S'?'Sensitized Units (4)':datum.value=='N'?'Non-sensitized Units (8)':'Saline Units (10)'"},"title":null},
             "xOffset":{"field":"u","type":"nominal","scale":{"domain":[9,7,5,3,1,2,4,6,8,10]}},
             "y":{"field":"v","type":"quantitative","title":"% of baseline value"},
             "fill":{"field":"k","type":"nominal","scale":{"domain":["S","N","C"],"range":["#2ea83a","#c6ee62","white"]},"legend":null},
             "stroke":{"field":"k","type":"nominal","scale":{"domain":["S","N","C"],"range":["#2ea83a","#b8e050","black"]},"legend":null}}},
           {"data":{"name":"dots"},"transform":[{"filter":"datum.d=='N' && datum.m=='thr'"}],"mark":{"type":"errorbar","extent":"stdev","ticks":{"size":8}},
            "encoding":{"x":{"field":"k","type":"nominal","scale":{"type":"band","domain":["S","N","C"],"paddingInner":0.5,"paddingOuter":0.44},"title":null},"y":{"field":"v","type":"quantitative","title":"% of baseline value"},"color":{"field":"k","type":"nominal","scale":{"domain":["S","N","C"],"range":["#1e8a2a","#4a5a20","black"]},"legend":null}}},
           {"data":{"name":"dots"},"transform":[{"filter":"datum.d=='N' && datum.m=='thr'"}],"mark":{"type":"tick","size":16,"thickness":1.2},
            "encoding":{"x":{"field":"k","type":"nominal","scale":{"type":"band","domain":["S","N","C"],"paddingInner":0.5,"paddingOuter":0.44},"title":null},"y":{"aggregate":"mean","field":"v","type":"quantitative","title":"% of baseline value"},"color":{"field":"k","type":"nominal","scale":{"domain":["S","N","C"],"range":["#1e8a2a","#4a5a20","black"]},"legend":null}}},
           {"data":{"name":"brk"},"transform":[{"filter":"datum.m=='thr'"}],"mark":{"type":"line","color":"black","strokeWidth":0.9},
            "encoding":{"x":{"field":"k","type":"nominal","scale":{"type":"band","domain":["S","N","C"],"paddingInner":0.5,"paddingOuter":0.44},"title":null},"y":{"field":"y","type":"quantitative","title":"% of baseline value"},"detail":{"field":"b"},"order":{"field":"o"}}},
           {"data":{"name":"ast"},"transform":[{"filter":"datum.m=='thr'"}],"mark":{"type":"text","text":"*","fontSize":10,"baseline":"middle","color":"black"},
            "encoding":{"x":{"field":"k","type":"nominal","scale":{"type":"band","domain":["S","N","C"],"paddingInner":0.5,"paddingOuter":0.44},"title":null},"y":{"field":"y","type":"quantitative","title":"% of baseline value"}}}
          ]},
         {"width":90,"height":64,"title":{"text":"Neurturin","subtitle":"Discharge frequency","fontSize":10.5,"subtitleFontSize":8,"frame":"group","dx":20,"offset":2,"subtitlePadding":2},
          "layer":[
           {"data":{"name":"ast"},"transform":[{"filter":"datum.m=='dis'"}],"mark":{"type":"rule","strokeDash":[1.5,1.5],"color":"#777","strokeWidth":0.8},"encoding":{"y":{"datum":100,"type":"quantitative","scale":{"domain":[60,210],"nice":false,"zero":false},"axis":{"values":[80,120,160,200],"tickCount":10,"labelOverlap":false},"title":"% of baseline value"}}},
           {"data":{"name":"dots"},"transform":[{"filter":"datum.d=='N' && datum.m=='dis'"}],"mark":{"type":"point","shape":"circle","size":14,"strokeWidth":0.8,"opacity":1},
            "encoding":{"x":{"field":"k","type":"nominal","scale":{"type":"band","domain":["S","N","C"],"paddingInner":0.5,"paddingOuter":0.44},"axis":{"labelAngle":-45,"labelFontSize":9.5,"labelExpr":"datum.value=='S'?'Sensitized Units (4)':datum.value=='N'?'Non-sensitized Units (8)':'Saline Units (10)'"},"title":null},
             "xOffset":{"field":"u","type":"nominal","scale":{"domain":[9,7,5,3,1,2,4,6,8,10]}},
             "y":{"field":"v","type":"quantitative","title":"% of baseline value"},
             "fill":{"field":"k","type":"nominal","scale":{"domain":["S","N","C"],"range":["#2ea83a","#c6ee62","white"]},"legend":null},
             "stroke":{"field":"k","type":"nominal","scale":{"domain":["S","N","C"],"range":["#2ea83a","#b8e050","black"]},"legend":null}}},
           {"data":{"name":"dots"},"transform":[{"filter":"datum.d=='N' && datum.m=='dis'"}],"mark":{"type":"errorbar","extent":"stdev","ticks":{"size":8}},
            "encoding":{"x":{"field":"k","type":"nominal","scale":{"type":"band","domain":["S","N","C"],"paddingInner":0.5,"paddingOuter":0.44},"title":null},"y":{"field":"v","type":"quantitative","title":"% of baseline value"},"color":{"field":"k","type":"nominal","scale":{"domain":["S","N","C"],"range":["#1e8a2a","#4a5a20","black"]},"legend":null}}},
           {"data":{"name":"dots"},"transform":[{"filter":"datum.d=='N' && datum.m=='dis'"}],"mark":{"type":"tick","size":16,"thickness":1.2},
            "encoding":{"x":{"field":"k","type":"nominal","scale":{"type":"band","domain":["S","N","C"],"paddingInner":0.5,"paddingOuter":0.44},"title":null},"y":{"aggregate":"mean","field":"v","type":"quantitative","title":"% of baseline value"},"color":{"field":"k","type":"nominal","scale":{"domain":["S","N","C"],"range":["#1e8a2a","#4a5a20","black"]},"legend":null}}},
           {"data":{"name":"brk"},"transform":[{"filter":"datum.m=='dis'"}],"mark":{"type":"line","color":"black","strokeWidth":0.9},
            "encoding":{"x":{"field":"k","type":"nominal","scale":{"type":"band","domain":["S","N","C"],"paddingInner":0.5,"paddingOuter":0.44},"title":null},"y":{"field":"y","type":"quantitative","title":"% of baseline value"},"detail":{"field":"b"},"order":{"field":"o"}}},
           {"data":{"name":"ast"},"transform":[{"filter":"datum.m=='dis'"}],"mark":{"type":"text","text":"*","fontSize":10,"baseline":"middle","color":"black"},
            "encoding":{"x":{"field":"k","type":"nominal","scale":{"type":"band","domain":["S","N","C"],"paddingInner":0.5,"paddingOuter":0.44},"title":null},"y":{"field":"y","type":"quantitative","title":"% of baseline value"}}}
          ]}
        ]}
     ]},
     {"width":129,"height":64,"title":{"text":"Neurturin","subtitle":"Time course","fontSize":10.5,"subtitleFontSize":8,"frame":"group","dx":25,"offset":-15,"subtitlePadding":2},
        "layer":[
         {"data":{"name":"pie"},"transform":[{"filter":"datum.d=='N' && datum.k=='sensitized'"}],"mark":{"type":"rule","strokeDash":[1.5,1.5],"color":"#777","strokeWidth":0.8},"encoding":{"y":{"datum":100,"type":"quantitative","scale":{"domain":[60,160],"nice":false,"zero":false},"axis":{"values":[60,80,100,120,140,160],"tickCount":10,"labelOverlap":false},"title":"% of baseline value"}}},
         {"data":{"name":"tc"},"transform":[{"filter":"datum.d=='N'"}],"mark":{"type":"line","strokeWidth":1,"opacity":0.7},
          "encoding":{"x":{"field":"t","type":"nominal","scale":{"type":"point","domain":["pre-injection","15","30","45","60"],"padding":0.65},"axis":{"labelAngle":-45,"labelFontSize":9.5,"titleFontSize":9.5,"titleY":21},"title":"Time (min)"},
           "y":{"field":"m","type":"quantitative","title":"% of baseline value"},
           "color":{"field":"k","type":"nominal","scale":{"domain":["S","N","C"],"range":["#34b244","#cdee6a","#111111"]},"legend":{"orient":"none","legendX":95,"legendY":-29,"title":null,"labelExpr":"datum.value=='S'?'Sensitized units (4)':datum.value=='N'?'Non-sensitized units (8)':'Saline (10)'","symbolType":"square","symbolSize":12,"labelFontSize":9,"rowPadding":-3,"labelOffset":3}}}},
         {"data":{"name":"tc"},"transform":[{"filter":"datum.d=='N'"}],"mark":{"type":"errorbar","ticks":{"size":4}},
          "encoding":{"x":{"field":"t","type":"nominal","scale":{"type":"point","domain":["pre-injection","15","30","45","60"],"padding":0.65},"title":"Time (min)"},"y":{"field":"m","type":"quantitative","title":"% of baseline value"},"yError":{"field":"sd"},"color":{"field":"k","type":"nominal","scale":{"domain":["S","N","C"],"range":["#34b244","#cdee6a","#111111"]}}}},
         {"data":{"name":"tc"},"transform":[{"filter":"datum.d=='N'"}],"mark":{"type":"point","shape":"square","filled":true,"size":10,"opacity":1},
          "encoding":{"x":{"field":"t","type":"nominal","scale":{"type":"point","domain":["pre-injection","15","30","45","60"],"padding":0.65},"title":"Time (min)"},"y":{"field":"m","type":"quantitative","title":"% of baseline value"},"color":{"field":"k","type":"nominal","scale":{"domain":["S","N","C"],"range":["#34b244","#cdee6a","#111111"]}}}},
         {"data":{"name":"tcs"},"transform":[{"filter":"datum.d=='N'"}],"mark":{"type":"text","text":"*","fontSize":10,"baseline":"middle","color":"black"},
          "encoding":{"x":{"field":"t","type":"nominal","scale":{"type":"point","domain":["pre-injection","15","30","45","60"],"padding":0.65},"title":"Time (min)"},"y":{"field":"y","type":"quantitative","title":"% of baseline value"}}}
        ]}
   ]},
   {"spacing":33,"resolve":{"scale":{"color":"independent","fill":"independent","stroke":"independent"},"legend":{"color":"independent"}},"hconcat":[
     {"spacing":1,"resolve":{"scale":{"color":"independent","fill":"independent","stroke":"independent"},"legend":{"color":"independent"}},"hconcat":[
       {"title":{"text":"Total units = 12","orient":"bottom","fontSize":9,"dx":50,"offset":4},"resolve":{"scale":{"color":"independent"},"legend":{"color":"independent"}},
        "vconcat":[{"width":154,"height":54,"data":{"name":"pie"},"transform":[{"filter":"datum.d=='A'"}],
            "title":{"text":"Artemin","fontSize":10,"frame":"group","dx":48,"offset":-5},
            "encoding":{"theta":{"field":"n","type":"quantitative","stack":true},"order":{"field":"k","sort":"descending"},
              "color":{"field":"k","type":"nominal","scale":{"domain":["sensitized","non-sensitized"],"range":["#e8101c","#f06090"]},"legend":{"orient":"none","legendX":102,"legendY":-20,"title":null,"symbolType":"M-1,-0.45L1,-0.45L1,0.45L-1,0.45Z","symbolSize":14,"labelFontSize":9,"rowPadding":-2,"symbolStrokeWidth":0}}},
            "layer":[{"mark":{"type":"arc","outerRadius":27}},{"mark":{"type":"text","radius":15,"fontSize":7},"encoding":{"text":{"field":"n","type":"quantitative"},"color":{"value":"white"}}}]}]},
       {"spacing":-6,"resolve":{"scale":{"color":"independent","fill":"independent","stroke":"independent"},"legend":{"color":"independent"}},
        "hconcat":[
         {"width":88,"height":64,"title":{"text":"Artemin","subtitle":"Threshold for activation","fontSize":10.5,"subtitleFontSize":8,"frame":"group","dx":15,"offset":2,"subtitlePadding":2},
          "layer":[
           {"data":{"name":"ast"},"transform":[{"filter":"datum.m=='thr'"}],"mark":{"type":"rule","strokeDash":[1.5,1.5],"color":"#777","strokeWidth":0.8},"encoding":{"y":{"datum":100,"type":"quantitative","scale":{"domain":[40,126],"nice":false,"zero":false},"axis":{"values":[40,60,80,100,120],"tickCount":10,"labelOverlap":false},"title":"% of baseline value"}}},
           {"data":{"name":"dots"},"transform":[{"filter":"datum.d=='A' && datum.m=='thr'"}],"mark":{"type":"point","shape":"circle","size":14,"strokeWidth":0.8,"opacity":1},
            "encoding":{"x":{"field":"k","type":"nominal","scale":{"type":"band","domain":["S","N","C"],"paddingInner":0.5,"paddingOuter":0.44},"axis":{"labelAngle":-45,"labelFontSize":9.5,"labelExpr":"datum.value=='S'?'Sensitized Units (8)':datum.value=='N'?'Non-sensitized Units (4)':'Saline Units (10)'"},"title":null},
             "xOffset":{"field":"u","type":"nominal","scale":{"domain":[9,7,5,3,1,2,4,6,8,10]}},
             "y":{"field":"v","type":"quantitative","title":"% of baseline value"},
             "fill":{"field":"k","type":"nominal","scale":{"domain":["S","N","C"],"range":["#e0141e","#f06a98","white"]},"legend":null},
             "stroke":{"field":"k","type":"nominal","scale":{"domain":["S","N","C"],"range":["#e0141e","#f06a98","black"]},"legend":null}}},
           {"data":{"name":"dots"},"transform":[{"filter":"datum.d=='A' && datum.m=='thr'"}],"mark":{"type":"errorbar","extent":"stdev","ticks":{"size":8}},
            "encoding":{"x":{"field":"k","type":"nominal","scale":{"type":"band","domain":["S","N","C"],"paddingInner":0.5,"paddingOuter":0.44},"title":null},"y":{"field":"v","type":"quantitative","title":"% of baseline value"},"color":{"field":"k","type":"nominal","scale":{"domain":["S","N","C"],"range":["#c01020","#a02040","black"]},"legend":null}}},
           {"data":{"name":"dots"},"transform":[{"filter":"datum.d=='A' && datum.m=='thr'"}],"mark":{"type":"tick","size":16,"thickness":1.2},
            "encoding":{"x":{"field":"k","type":"nominal","scale":{"type":"band","domain":["S","N","C"],"paddingInner":0.5,"paddingOuter":0.44},"title":null},"y":{"aggregate":"mean","field":"v","type":"quantitative","title":"% of baseline value"},"color":{"field":"k","type":"nominal","scale":{"domain":["S","N","C"],"range":["#c01020","#a02040","black"]},"legend":null}}},
           {"data":{"name":"brk"},"transform":[{"filter":"datum.m=='thr'"}],"mark":{"type":"line","color":"black","strokeWidth":0.9},
            "encoding":{"x":{"field":"k","type":"nominal","scale":{"type":"band","domain":["S","N","C"],"paddingInner":0.5,"paddingOuter":0.44},"title":null},"y":{"field":"y","type":"quantitative","title":"% of baseline value"},"detail":{"field":"b"},"order":{"field":"o"}}},
           {"data":{"name":"ast"},"transform":[{"filter":"datum.m=='thr'"}],"mark":{"type":"text","text":"*","fontSize":10,"baseline":"middle","color":"black"},
            "encoding":{"x":{"field":"k","type":"nominal","scale":{"type":"band","domain":["S","N","C"],"paddingInner":0.5,"paddingOuter":0.44},"title":null},"y":{"field":"y","type":"quantitative","title":"% of baseline value"}}}
          ]},
         {"width":90,"height":64,"title":{"text":"Artemin","subtitle":"Discharge frequency","fontSize":10.5,"subtitleFontSize":8,"frame":"group","dx":20,"offset":2,"subtitlePadding":2},
          "layer":[
           {"data":{"name":"ast"},"transform":[{"filter":"datum.m=='dis'"}],"mark":{"type":"rule","strokeDash":[1.5,1.5],"color":"#777","strokeWidth":0.8},"encoding":{"y":{"datum":100,"type":"quantitative","scale":{"domain":[60,210],"nice":false,"zero":false},"axis":{"values":[80,120,160,200],"tickCount":10,"labelOverlap":false},"title":"% of baseline value"}}},
           {"data":{"name":"dots"},"transform":[{"filter":"datum.d=='A' && datum.m=='dis'"}],"mark":{"type":"point","shape":"circle","size":14,"strokeWidth":0.8,"opacity":1},
            "encoding":{"x":{"field":"k","type":"nominal","scale":{"type":"band","domain":["S","N","C"],"paddingInner":0.5,"paddingOuter":0.44},"axis":{"labelAngle":-45,"labelFontSize":9.5,"labelExpr":"datum.value=='S'?'Sensitized Units (8)':datum.value=='N'?'Non-sensitized Units (4)':'Saline Units (10)'"},"title":null},
             "xOffset":{"field":"u","type":"nominal","scale":{"domain":[9,7,5,3,1,2,4,6,8,10]}},
             "y":{"field":"v","type":"quantitative","title":"% of baseline value"},
             "fill":{"field":"k","type":"nominal","scale":{"domain":["S","N","C"],"range":["#e0141e","#f06a98","white"]},"legend":null},
             "stroke":{"field":"k","type":"nominal","scale":{"domain":["S","N","C"],"range":["#e0141e","#f06a98","black"]},"legend":null}}},
           {"data":{"name":"dots"},"transform":[{"filter":"datum.d=='A' && datum.m=='dis'"}],"mark":{"type":"errorbar","extent":"stdev","ticks":{"size":8}},
            "encoding":{"x":{"field":"k","type":"nominal","scale":{"type":"band","domain":["S","N","C"],"paddingInner":0.5,"paddingOuter":0.44},"title":null},"y":{"field":"v","type":"quantitative","title":"% of baseline value"},"color":{"field":"k","type":"nominal","scale":{"domain":["S","N","C"],"range":["#c01020","#a02040","black"]},"legend":null}}},
           {"data":{"name":"dots"},"transform":[{"filter":"datum.d=='A' && datum.m=='dis'"}],"mark":{"type":"tick","size":16,"thickness":1.2},
            "encoding":{"x":{"field":"k","type":"nominal","scale":{"type":"band","domain":["S","N","C"],"paddingInner":0.5,"paddingOuter":0.44},"title":null},"y":{"aggregate":"mean","field":"v","type":"quantitative","title":"% of baseline value"},"color":{"field":"k","type":"nominal","scale":{"domain":["S","N","C"],"range":["#c01020","#a02040","black"]},"legend":null}}},
           {"data":{"name":"brk"},"transform":[{"filter":"datum.m=='dis'"}],"mark":{"type":"line","color":"black","strokeWidth":0.9},
            "encoding":{"x":{"field":"k","type":"nominal","scale":{"type":"band","domain":["S","N","C"],"paddingInner":0.5,"paddingOuter":0.44},"title":null},"y":{"field":"y","type":"quantitative","title":"% of baseline value"},"detail":{"field":"b"},"order":{"field":"o"}}},
           {"data":{"name":"ast"},"transform":[{"filter":"datum.m=='dis'"}],"mark":{"type":"text","text":"*","fontSize":10,"baseline":"middle","color":"black"},
            "encoding":{"x":{"field":"k","type":"nominal","scale":{"type":"band","domain":["S","N","C"],"paddingInner":0.5,"paddingOuter":0.44},"title":null},"y":{"field":"y","type":"quantitative","title":"% of baseline value"}}}
          ]}
        ]}
     ]},
     {"width":129,"height":64,"title":{"text":"Artemin","subtitle":"Time course","fontSize":10.5,"subtitleFontSize":8,"frame":"group","dx":25,"offset":-15,"subtitlePadding":2},
        "layer":[
         {"data":{"name":"pie"},"transform":[{"filter":"datum.d=='A' && datum.k=='sensitized'"}],"mark":{"type":"rule","strokeDash":[1.5,1.5],"color":"#777","strokeWidth":0.8},"encoding":{"y":{"datum":100,"type":"quantitative","scale":{"domain":[60,160],"nice":false,"zero":false},"axis":{"values":[60,80,100,120,140,160],"tickCount":10,"labelOverlap":false},"title":"% of baseline value"}}},
         {"data":{"name":"tc"},"transform":[{"filter":"datum.d=='A'"}],"mark":{"type":"line","strokeWidth":1,"opacity":0.7},
          "encoding":{"x":{"field":"t","type":"nominal","scale":{"type":"point","domain":["pre-injection","15","30","45","60"],"padding":0.65},"axis":{"labelAngle":-45,"labelFontSize":9.5,"titleFontSize":9.5,"titleY":21},"title":"Time (min)"},
           "y":{"field":"m","type":"quantitative","title":"% of baseline value"},
           "color":{"field":"k","type":"nominal","scale":{"domain":["S","N","C"],"range":["#e2202e","#f27ca4","#111111"]},"legend":{"orient":"none","legendX":95,"legendY":-29,"title":null,"labelExpr":"datum.value=='S'?'Sensitized units (8)':datum.value=='N'?'Non-sensitized units (4)':'Saline (10)'","symbolType":"square","symbolSize":12,"labelFontSize":9,"rowPadding":-3,"labelOffset":3}}}},
         {"data":{"name":"tc"},"transform":[{"filter":"datum.d=='A'"}],"mark":{"type":"errorbar","ticks":{"size":4}},
          "encoding":{"x":{"field":"t","type":"nominal","scale":{"type":"point","domain":["pre-injection","15","30","45","60"],"padding":0.65},"title":"Time (min)"},"y":{"field":"m","type":"quantitative","title":"% of baseline value"},"yError":{"field":"sd"},"color":{"field":"k","type":"nominal","scale":{"domain":["S","N","C"],"range":["#e2202e","#f27ca4","#111111"]}}}},
         {"data":{"name":"tc"},"transform":[{"filter":"datum.d=='A'"}],"mark":{"type":"point","shape":"square","filled":true,"size":10,"opacity":1},
          "encoding":{"x":{"field":"t","type":"nominal","scale":{"type":"point","domain":["pre-injection","15","30","45","60"],"padding":0.65},"title":"Time (min)"},"y":{"field":"m","type":"quantitative","title":"% of baseline value"},"color":{"field":"k","type":"nominal","scale":{"domain":["S","N","C"],"range":["#e2202e","#f27ca4","#111111"]}}}},
         {"data":{"name":"tcs"},"transform":[{"filter":"datum.d=='A'"}],"mark":{"type":"text","text":"*","fontSize":10,"baseline":"middle","color":"black"},
          "encoding":{"x":{"field":"t","type":"nominal","scale":{"type":"point","domain":["pre-injection","15","30","45","60"],"padding":0.65},"title":"Time (min)"},"y":{"field":"y","type":"quantitative","title":"% of baseline value"}}}
        ]}
   ]}
  ]}
]
}
